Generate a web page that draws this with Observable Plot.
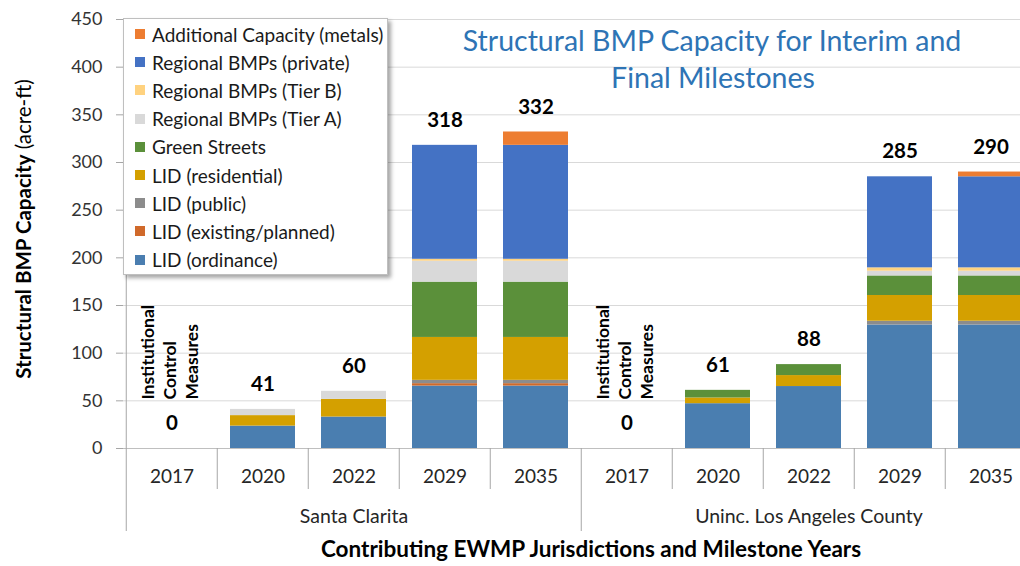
<!DOCTYPE html>
<html>
<head>
<meta charset="utf-8">
<script src="https://cdn.jsdelivr.net/npm/d3@7"></script>
<script src="https://cdn.jsdelivr.net/npm/@observablehq/plot@0.6"></script>
<style>
  body { margin: 0; background: #fff; font-family: Lato, "Open Sans", sans-serif; }
  #wrap { position: relative; width: 1020px; height: 566px; overflow: hidden; background: #fff; }
  #chart svg { display: block; max-width: none !important; height: 566px !important; }
  .ttl { position: absolute; color: #2E74B5; font-size: 28.5px; line-height: 1; white-space: nowrap; transform: translateX(-50%); }
  #ylab { position: absolute; left: 23px; top: 229px; transform: translate(-50%, -50%) rotate(-90deg);
          white-space: nowrap; font-size: 20.5px; color: #000; }
  #legend { position: absolute; left: 123px; top: 18px; width: 265px; height: 257px; background: #fff;
            border: 1px solid #bfbfbf; box-shadow: 3px 3px 4px rgba(0,0,0,.35); box-sizing: border-box; }
  #legend .lg-swatches, #legend .lg-swatches-wrap {
    display: flex !important; flex-direction: column !important; align-items: flex-start !important;
    flex-wrap: nowrap !important; margin: 0 !important; padding: 1px 0 0 11px !important;
    font-family: Lato, "Open Sans", sans-serif !important; font-size: 19px !important; color: #1a1a1a !important;
    min-height: 0 !important; }
  #legend .lg-swatch { display: flex !important; align-items: center !important; height: 28.2px; margin: 0 !important; white-space: nowrap; }
  #legend .lg-swatch svg { margin-right: 7px !important; }
</style>
</head>
<body>
<div id="wrap">
  <div id="chart"></div>
  <div id="legend"></div>
  <div class="ttl" id="t1" style="left:712px; top:26px;"></div>
  <div class="ttl" id="t2" style="left:713px; top:63px;"></div>
  <div id="ylab"><b>Structural BMP Capacity</b> (acre-ft)</div>
</div>
<script>
// ---------- data ----------
const jurisdictions = ["Santa Clarita", "Uninc. Los Angeles County"];
const years = ["2017", "2020", "2022", "2029", "2035"];
const titleLines = ["Structural BMP Capacity for Interim and", "Final Milestones"];
const xTitle = "Contributing EWMP Jurisdictions and Milestone Years";
const noteLines = ["Institutional", "Control", "Measures"];
const yTicks = [0, 50, 100, 150, 200, 250, 300, 350, 400, 450];

// series, bottom-up stacking order
const seriesNames = [
  "LID (ordinance)",
  "LID (existing/planned)",
  "LID (public)",
  "LID (residential)",
  "Green Streets",
  "Regional BMPs (Tier A)",
  "Regional BMPs (Tier B)",
  "Regional BMPs (private)",
  "Additional Capacity (metals)"
];
const seriesColors = ["#4A7EB0", "#D0692A", "#8C8C8C", "#D4A000", "#5B903A", "#D9D9D9", "#FFD27F", "#4472C4", "#ED7D31"];

// values per category: SC 2017,2020,2022,2029,2035 | LA 2017,2020,2022,2029,2035
const lidOrdinance   = [0, 23.5, 33,   65.5, 65.5,  0, 47, 65,   129.5, 129.5];
const lidExisting    = [0, 0,    0,    2.5,  2.5,   0, 0,  0,    0,     0];
const lidPublic      = [0, 0,    0,    3.5,  3.5,   0, 0,  0,    4,     4];
const lidResidential = [0, 11,   18.5, 45,   45,    0, 6,  11.5, 27,    27];
const greenStreets   = [0, 0,    0,    58,   58,    0, 8,  11.5, 20.5,  20.5];
const tierA          = [0, 6.5,  8.5,  22,   22,    0, 0,  0,    5,     5];
const tierB          = [0, 0,    0,    2,    2,     0, 0,  0,    3.5,   3.5];
const regionalPriv   = [0, 0,    0,    119.5,119.5, 0, 0,  0,    95.5,  95.5];
const metals         = [0, 0,    0,    0,    14,    0, 0,  0,    0,     5];
const seriesValues = [lidOrdinance, lidExisting, lidPublic, lidResidential, greenStreets, tierA, tierB, regionalPriv, metals];
const totals = [0, 41, 60, 318, 332, 0, 61, 88, 285, 290];

// ---------- build tables ----------
const keys = jurisdictions.flatMap(j => years.map(y => j + "|" + y));
const data = seriesNames.flatMap((s, i) => keys.map((k, j) => ({key: k, series: s, value: seriesValues[i][j]})))
  .filter(d => d.value > 0);
const labels = keys.map((k, i) => ({key: k, total: totals[i]}));
const legendOrder = seriesNames.slice().reverse();
const legendColors = seriesColors.slice().reverse();

// ---------- layout ----------
const W = 1038, H = 566, mL = 123, mR = 0, mT = 19, mB = 118;
const step = (W - mL - mR) / keys.length;
const plotH = H - mT - mB;
const sepColor = "#a6a6a6";

const plot = Plot.plot({
  width: W, height: H,
  marginLeft: mL, marginRight: mR, marginTop: mT, marginBottom: mB,
  style: {fontFamily: "Lato, 'Open Sans', sans-serif", color: "#262626", background: "transparent", maxWidth: "none"},
  x: {domain: keys, paddingInner: 0.29, paddingOuter: 0.145},
  y: {domain: [0, 450]},
  color: {domain: legendOrder, range: legendColors},
  marks: [
    Plot.gridY(yTicks, {stroke: "#d9d9d9", strokeOpacity: 1}),
    Plot.ruleY([0], {stroke: "#bfbfbf"}),
    Plot.barY(data, {x: "key", y: "value", fill: "series", order: seriesNames}),
    // axis line / group brackets / year separators
    Plot.ruleX([keys[0]], {x: d => d, dx: -step / 2, stroke: sepColor, insetBottom: -83}),
    Plot.ruleX([keys[5]], {x: d => d, dx: -step / 2, stroke: sepColor, insetTop: plotH, insetBottom: -83}),
    Plot.ruleX(keys.filter(k => !k.endsWith("|2017")), {x: d => d, dx: -step / 2, stroke: sepColor, insetTop: plotH, insetBottom: -41}),
    Plot.axisY(yTicks, {tickSize: 7, tickPadding: 14, fontSize: 18, stroke: sepColor, fill: "#333", label: null}),
    Plot.axisX({tickSize: 0, tickPadding: 21, fontSize: 19, fill: "#262626", label: null, tickFormat: d => d.split("|")[1]}),
    Plot.text(jurisdictions, {x: j => j + "|2022", frameAnchor: "bottom", dy: 74, fontSize: 19.5, fill: "#262626"}),
    Plot.text([xTitle], {frameAnchor: "bottom", dy: 108, dx: 10, fontSize: 22.5, fontWeight: "bold", fill: "#000"}),
    Plot.text(labels, {x: "key", y: "total", text: d => String(d.total), dy: -25, fontSize: 20.5, fontWeight: "bold", fill: "#000"}),
    Plot.text(jurisdictions.map(j => j + "|2017"), {
      x: d => d, y: () => 0, text: () => noteLines.join("\n"), rotate: -90, textAnchor: "start",
      lineHeight: 1.25, fontSize: 17.5, fontWeight: "bold", fill: "#000", dy: -49, dx: -3
    })
  ]
});
document.getElementById("chart").appendChild(plot);

const leg = plot.legend("color", {className: "lg", swatchSize: 10});
document.getElementById("legend").appendChild(leg);
document.getElementById("t1").textContent = titleLines[0];
document.getElementById("t2").textContent = titleLines[1];
</script>
</body>
</html>
